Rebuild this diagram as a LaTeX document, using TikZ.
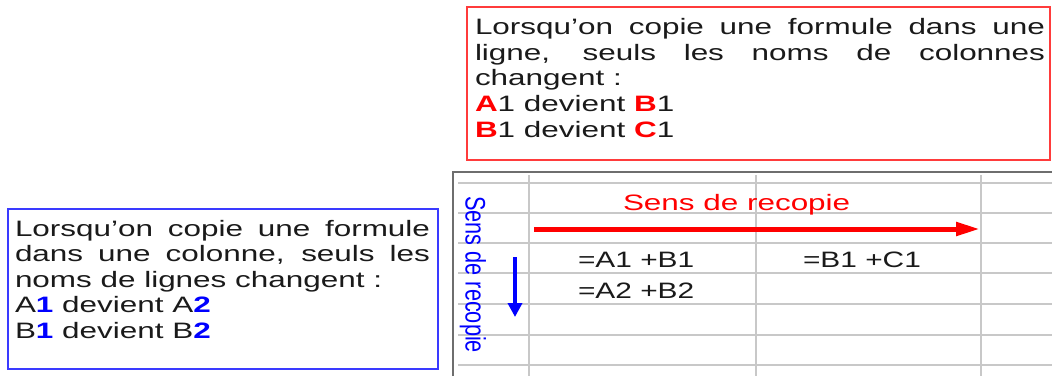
\documentclass[tikz,border=0pt]{standalone}
\usepackage{graphicx}
\usepackage{fontspec}
\setmainfont{Liberation Sans}[FakeStretch=1.41]
\newfontfamily\vfont{Liberation Sans}
\usetikzlibrary{arrows.meta}
\definecolor{gridgray}{HTML}{C8C8C8}
\definecolor{bordergray}{HTML}{6E6E6E}
\definecolor{myred}{HTML}{FF0000}
\definecolor{myblue}{HTML}{0000FF}
\definecolor{redframe}{HTML}{FF3B3B}
\definecolor{blueframe}{HTML}{3A3AFF}
\definecolor{txt}{HTML}{1A1A1A}
\newcommand{\jline}[2]{\makebox[#1][s]{#2}}
\newcommand{\rb}[1]{{\color{myred}\bfseries #1}}
\newcommand{\bb}[1]{{\color{myblue}\bfseries #1}}
\newcommand{\formula}[1]{\scalebox{0.95}[1]{#1}}
\begin{document}
\begin{tikzpicture}[x=1pt,y=-1pt,
  txtline/.style={anchor=base west, inner sep=0pt, outer sep=0pt,
    font=\fontsize{22.3}{25}\selectfont, text=txt},
  gridline/.style={draw=gridgray, line width=2pt},
  redbox/.style={draw=redframe, line width=2.5pt},
  bluebox/.style={draw=blueframe, line width=2pt},
  redarrow/.style={draw=myred, line width=5pt, -{Triangle[length=24pt,width=13pt]}},
  bluearrow/.style={draw=myblue, line width=4pt, -{Triangle[length=14pt,width=14pt]}}]
\useasboundingbox (0,0) rectangle (1052,376);
\fill[white] (0,0) rectangle (1052,376);

% spreadsheet grid
\foreach \yy in {183,213,243,273,304,335,365}
  \draw[gridline] (458,\yy) -- (1052,\yy);
\foreach \xx in {529,756,981}
  \draw[gridline] (\xx,175) -- (\xx,376);
\draw[draw=bordergray, line width=2pt] (453,376) -- (453,172) -- (1052,172);

% frames
\draw[redbox] (467,7) rectangle (1050,160);
\draw[bluebox] (8,209) rectangle (438,369);

% red box text
\node[txtline] (r1) at (475,34.3) {\jline{570pt}{Lorsqu’on copie une formule dans une}};
\node[txtline] (r2) at (475,60) {\jline{570pt}{ligne, seuls les noms de colonnes}};
\node[txtline] (r3) at (475,85.8) {changent :};
\node[txtline] (r4) at (475,111.5) {\rb{A}1 devient \rb{B}1};
\node[txtline] (r5) at (475,137.3) {\rb{B}1 devient \rb{C}1};

% blue box text
\node[txtline] (b1) at (15,236) {\jline{415pt}{Lorsqu’on copie une formule}};
\node[txtline] (b2) at (15,261.5) {\jline{415pt}{dans une colonne, seuls les}};
\node[txtline] (b3) at (15,287) {noms de lignes changent :};
\node[txtline] (b4) at (15,312.5) {A\bb{1} devient A\bb{2}};
\node[txtline] (b5) at (15,338) {B\bb{1} devient B\bb{2}};

% grid contents
\node[txtline, text=myred] (sens) at (623,210.5) {Sens de recopie};
\node[txtline] (f1) at (578,267) {\formula{=A1 +B1}};
\node[txtline] (f2) at (803,267) {\formula{=B1 +C1}};
\node[txtline] (f3) at (578,298) {\formula{=A2 +B2}};
\node[anchor=north, inner sep=0pt] (vsens) at (473,196)
  {\scalebox{1.3}[1]{\rotatebox{-90}{\vfont\fontsize{21.7}{25}\selectfont\color{myblue}Sens de recopie}}};

% arrows
\coordinate (ra) at (534,229);
\coordinate (rb) at (980,229);
\coordinate (ba) at (515,257);
\coordinate (bz) at (515,317);
\draw[redarrow] (ra) -- (rb);
\draw[bluearrow] (ba) -- (bz);
\end{tikzpicture}
\end{document}
